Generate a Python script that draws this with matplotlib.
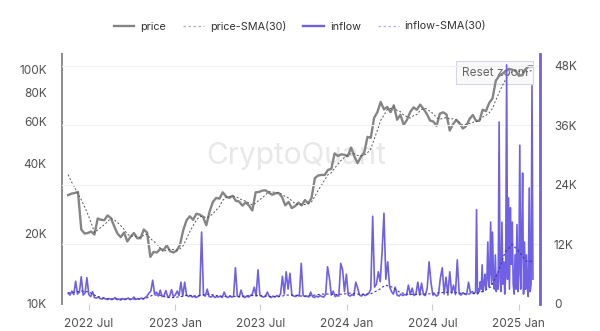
import numpy as np
import pandas as pd
import matplotlib
matplotlib.use('Agg')
import matplotlib.pyplot as plt
from matplotlib.lines import Line2D

plt.rcParams['font.family'] = ['Inter', 'DejaVu Sans']

# BTC price (K USD), weekly from 2022-05-18
price = [
    29.2, 29.6, 29.8, 30.1, 20.8, 20.0, 20.1, 20.4, 19.8, 23.2,
    22.9, 22.8, 23.9, 23.3, 21.5, 20.0, 19.3, 20.2, 18.5, 19.4,
    20.1, 19.1, 19.1, 20.8, 20.2, 15.9, 16.7, 16.6, 17.2, 17.0,
    17.8, 16.8, 16.6,
    16.9, 17.9, 20.7, 22.8, 23.7, 22.9, 24.3, 24.1, 23.6, 21.7,
    24.8, 27.3, 28.4, 28.2, 30.0, 28.8, 28.4, 29.0, 27.6, 27.4,
    26.3, 27.2, 26.3, 25.1, 30.0, 30.1, 30.5, 30.6, 29.9, 29.3,
    29.7, 29.8, 28.7, 26.4, 27.3, 25.7, 26.2, 27.1, 26.4, 27.8,
    26.9, 28.4, 34.5, 35.4, 35.6, 35.6, 37.4, 37.8, 44.0, 42.9,
    43.6, 43.4,
    42.8, 46.6, 42.7, 40.0, 42.6, 44.3, 51.8, 51.3, 62.4, 66.0,
    73.0, 67.9, 69.5, 66.0, 70.6, 61.3, 64.3, 58.3, 61.2, 66.2,
    69.2, 67.6, 71.1, 68.2, 65.0, 60.8, 60.2, 57.7, 65.1, 65.9,
    64.6, 55.1, 58.7, 61.2, 59.0, 56.2, 57.6, 61.7, 64.2, 60.6,
    60.6, 67.6, 66.7, 72.3, 75.6, 90.0, 94.3, 96.4, 98.8, 101.1,
    100.2, 99.3,
    94.5, 95.0, 100.5, 103.7, 103.7,
]
# weekly closes from 2022-04-20, only used to seed the 30-day average
price_lead = [41.5, 39.2, 39.7, 29.0]

# exchange inflow (K BTC), every 4 days from 2022-05-18
inflow_4d = [
    2.2, 1.8, 2.6, 1.9, 4.6, 2.0, 2.4, 5.5, 1.8, 2.2,
    5.3, 1.9, 1.5, 2.5, 1.3, 1.2, 1.4, 1.1, 1.0, 1.2,
    1.0, 0.9, 1.1, 0.9, 1.0, 1.3, 0.9, 1.0, 0.8, 1.1,
    0.9, 1.0, 1.2, 0.9, 1.0, 1.4, 0.9, 1.1, 1.0, 1.2,
    1.0, 1.3, 1.6, 2.2, 2.6, 4.8, 2.0, 2.4, 1.6, 2.8,
    1.5, 1.7, 2.7, 1.4, 1.6, 2.9, 1.5, 1.8, 2.6, 1.7,
    4.4, 1.6, 4.4, 1.8, 1.5, 1.7, 1.4, 1.6, 1.3, 1.5,
    1.7, 14.5, 1.8, 1.6, 3.0, 1.5, 1.4, 1.7, 1.3, 1.5,
    1.4, 1.6, 1.3, 2.4, 1.5, 1.3, 1.6, 1.4, 1.5, 7.3,
    1.6, 1.4, 2.8, 1.5, 1.3, 1.6, 1.4, 1.7, 2.0, 3.4,
    1.6, 6.9, 1.8, 1.5, 1.4, 1.6, 2.4, 1.5, 1.3, 1.6,
    1.4, 1.7, 1.5, 2.0, 5.6, 2.0, 6.5, 3.0, 6.2, 1.8,
    1.6, 1.5, 1.8, 1.6, 8.2, 1.7, 1.5, 1.6, 1.4, 2.4,
    1.5, 1.3, 1.6, 1.4, 1.7, 1.5, 1.4, 2.0, 7.5, 5.2,
    1.8, 2.6, 1.5, 1.7, 1.6, 8.2, 6.9, 2.5, 6.0, 1.8,
    1.6, 1.9, 1.7, 4.4, 3.2, 1.8, 1.6, 2.0, 1.7, 1.9,
    2.2, 3.0, 17.7, 3.4, 4.0, 6.5, 4.5, 10.5, 18.3, 5.0,
    8.5, 3.5, 2.5, 2.0, 3.4, 1.8, 1.6, 2.0, 1.7, 1.9,
    1.8, 3.8, 1.9, 3.2, 1.7, 2.0, 4.4, 1.8, 4.2, 1.9,
    1.7, 3.2, 8.5, 4.4, 1.8, 2.0, 1.6, 1.9, 5.2, 7.3,
    2.0, 5.4, 1.8, 6.5, 2.2, 3.8, 1.9, 8.9, 2.1, 1.8,
    2.3, 2.0, 1.9, 4.4, 2.2, 2.5, 2.1,
]
# exchange inflow (K BTC), every 2 days from 2024-10-01
inflow_2d = [
    2.5, 19.0, 2.0, 3.0, 2.5, 4.5, 3.0, 7.9, 2.5, 4.0,
    6.0, 3.0, 5.0, 12.5, 3.5, 6.0, 16.5, 4.0, 14.5, 5.0,
    3.0, 9.9, 2.5, 6.0, 3.0, 36.7, 5.0, 2.5, 16.5, 4.0,
    8.5, 2.0, 6.0, 48.2, 5.0, 21.4, 3.0, 19.4, 8.0, 16.5,
    4.0, 2.0, 9.9, 3.0, 16.0, 2.5, 6.0, 32.0, 3.0, 11.3,
    26.4, 2.0, 12.5, 3.0, 9.9, 3.2, 1.5, 23.4, 2.5, 4.0,
    44.0, 5.0,
]
# inflow 30-day SMA (K BTC), every 15 days from 2022-05-18
inflow_sma = [
    2.2, 2.4, 2.6, 2.4, 1.6, 1.2, 1.0, 1.0, 1.0, 1.0,
    1.0, 1.1, 1.8, 1.8, 1.3, 1.3, 1.5, 1.8, 1.6, 1.8,
    2.0, 1.7, 1.5, 1.6, 1.5, 1.6, 1.7, 1.7, 1.6, 1.5,
    1.5, 1.8, 1.8, 1.6, 1.6, 1.8, 2.0, 2.0, 1.9, 2.0,
    2.2, 2.0, 1.9, 2.1, 2.8, 3.8, 3.4, 2.4, 2.0, 1.9,
    2.0, 2.0, 2.2, 2.3, 2.4, 2.3, 2.1, 2.0, 2.2, 2.6,
    3.5, 6.5, 10.5, 12.0, 10.5, 8.6, 8.6,
]

y_left_ticks = [10e3, 20e3, 40e3, 60e3, 80e3, 100e3]
y_left_labels = ['10K', '20K', '40K', '60K', '80K', '100K']
y_right_ticks = [0, 12e3, 24e3, 36e3, 48e3]
y_right_labels = ['0', '12K', '24K', '36K', '48K']
x_ticks = ['2022-07-01', '2023-01-01', '2023-07-01', '2024-01-01', '2024-07-01', '2025-01-01']
x_labels = ['2022 Jul', '2023 Jan', '2023 Jul', '2024 Jan', '2024 Jul', '2025 Jan']

GRAY = '#858585'
PURPLE = '#7060e3'
TICK = '#505050'

# series
p_dates = pd.date_range('2022-05-18', periods=len(price), freq='7D')
lead_dates = pd.date_range('2022-04-20', periods=len(price_lead), freq='7D')
p_all = pd.Series(np.array(price_lead + price) * 1e3, index=lead_dates.append(p_dates))
p_sma = p_all.rolling('30D').mean().loc[p_dates[0]:]
p = p_all.loc[p_dates[0]:]

inflow = pd.concat([
    pd.Series(inflow_4d, index=pd.date_range('2022-05-18', periods=len(inflow_4d), freq='4D')),
    pd.Series(inflow_2d, index=pd.date_range('2024-10-01', periods=len(inflow_2d), freq='2D')),
]) * 1e3
i_sma = pd.Series(inflow_sma, index=pd.date_range('2022-05-18', periods=len(inflow_sma), freq='15D')) * 1e3

fig = plt.figure(figsize=(6, 3.31), dpi=100)
ax1 = fig.add_axes([62 / 600, 1 - 304 / 331, 478 / 600, 250 / 331])
ax2 = ax1.twinx()

# watermark and the leftover zoom button sit underneath the series
ax1.text(0.49, 0.59, 'CryptoQuant', transform=ax1.transAxes, fontsize=21.5,
         color='#e8e8e8', ha='center', va='center', zorder=0)
ax1.text(0.905, 0.926, 'Reset zoom', transform=ax1.transAxes, fontsize=8.5,
         color='#666666', ha='center', va='center', zorder=1,
         bbox=dict(boxstyle='square,pad=0.45', fc='#f9f9f9', ec='#d6d6e8', lw=0.8))

ax1.plot(p.index, p.values, color=GRAY, lw=1.7, zorder=3)
ax1.plot(p_sma.index, p_sma.values, color='#555555', lw=0.7, ls=(0, (2, 2)), zorder=4)
ax1.set_yscale('log')
ax1.set_ylim(10e3, 117e3)
ax1.set_yticks(y_left_ticks)
ax1.set_yticklabels(y_left_labels)
ax1.yaxis.set_minor_locator(matplotlib.ticker.NullLocator())

ax2.plot(inflow.index, inflow.values, color=PURPLE, lw=1.2, zorder=3)
ax2.plot(i_sma.index, i_sma.values, color='#3f33a8', lw=0.8, ls=(0, (2, 2)), zorder=4)
ax2.set_ylim(0, 50.4e3)
ax2.set_yticks(y_right_ticks)
ax2.set_yticklabels(y_right_labels)
ax2.yaxis.grid(True, color='#f0f0f0', lw=0.8)
ax2.set_axisbelow(True)

ax1.set_xlim(pd.Timestamp('2022-05-05'), pd.Timestamp('2025-02-15'))
ax1.set_xticks(pd.to_datetime(x_ticks))
ax1.set_xticklabels(x_labels)

for s in ['top', 'right', 'bottom']:
    ax1.spines[s].set_visible(False)
ax1.spines['left'].set_color('#8c8c8c')
ax1.spines['left'].set_linewidth(1.4)
for s in ['top', 'left', 'bottom']:
    ax2.spines[s].set_visible(False)
ax2.spines['right'].set_color(PURPLE)
ax2.spines['right'].set_linewidth(2)

ax1.tick_params(axis='y', length=0, pad=11, labelsize=8.5, labelcolor=TICK)
ax2.tick_params(axis='y', length=0, pad=10, labelsize=8.5, labelcolor=TICK)
ax1.tick_params(axis='x', length=4, color='#cccccc', pad=6, labelsize=8.5, labelcolor=TICK)

handles = [
    Line2D([], [], color=GRAY, lw=1.7),
    Line2D([], [], color='#aaaaaa', lw=0.9, ls=(0, (2, 2))),
    Line2D([], [], color=PURPLE, lw=1.7),
    Line2D([], [], color='#b5acef', lw=0.9, ls=(0, (2, 2))),
]
fig.legend(handles, ['price', 'price-SMA(30)', 'inflow', 'inflow-SMA(30)'],
           loc='center', bbox_to_anchor=(0.5, 1 - 26 / 331), ncol=4, frameon=False,
           fontsize=7.8, labelcolor='#333333', handlelength=1.9, columnspacing=1.6,
           handletextpad=0.55)

fig.savefig('out.png', dpi=100)
